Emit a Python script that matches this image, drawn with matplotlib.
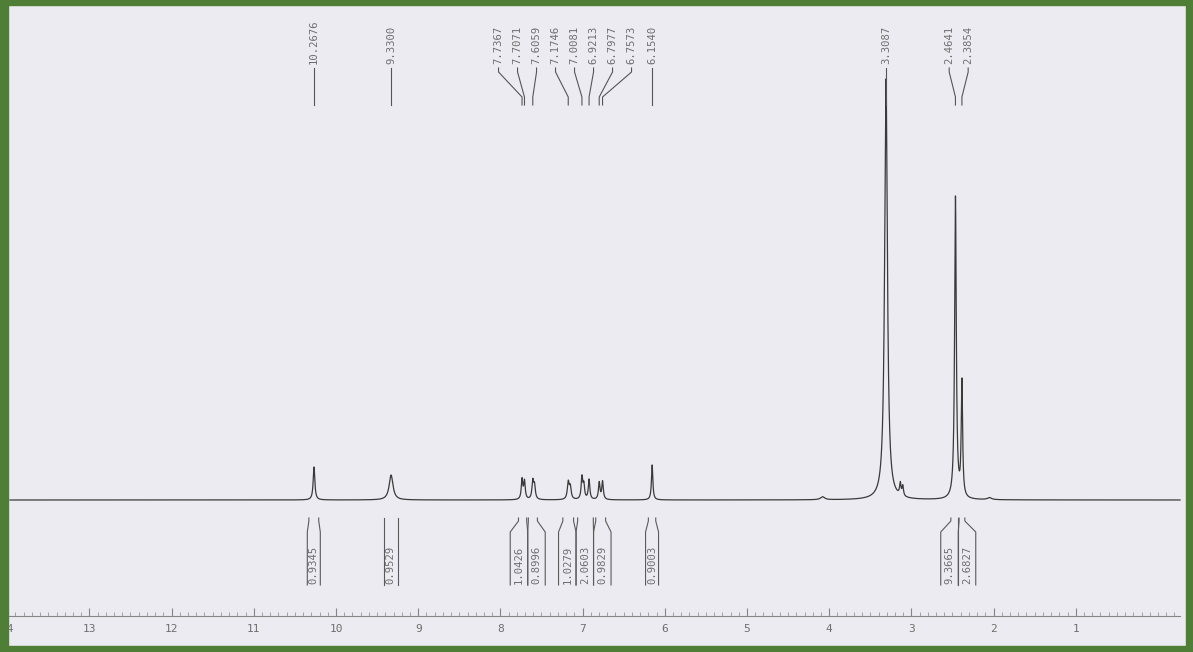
import matplotlib
matplotlib.use("Agg")
import matplotlib.pyplot as plt
import numpy as np
from matplotlib.patches import Rectangle
from matplotlib.ticker import FixedLocator, MultipleLocator

# labelled lines: shift (ppm), height above baseline, half-width (ppm)
peak_ppm = [10.2676, 9.3300, 7.7367, 7.7071, 7.6059, 7.1746, 7.0081,
            6.9213, 6.7977, 6.7573, 6.1540, 3.3087, 2.4641, 2.3854]
peak_height = [33, 25, 20, 18, 18, 17, 22, 20, 17, 18, 35, 421, 302, 115]
peak_hw = [0.012, 0.028, 0.011, 0.011, 0.012, 0.013, 0.011,
           0.011, 0.011, 0.011, 0.010, 0.020, 0.012, 0.010]

# small unlabelled lines (shoulders, satellites, impurities)
minor_ppm = [7.585, 7.150, 6.985, 3.135, 3.105, 4.080, 2.050]
minor_height = [13, 12, 14, 12, 10, 3, 2]
minor_hw = [0.012, 0.013, 0.011, 0.010, 0.010, 0.030, 0.030]

# integrals: value and region (ppm, from high to low)
integ_value = [0.9345, 0.9529, 1.0426, 0.8996, 1.0279, 2.0603, 0.9829,
               0.9003, 9.3665, 2.6827]
integ_from = [10.33, 9.42, 7.78, 7.66, 7.24, 7.06, 6.84, 6.20, 2.52, 2.42]
integ_to = [10.21, 9.25, 7.68, 7.55, 7.11, 6.87, 6.72, 6.11, 2.43, 2.35]

scale_ticks = list(range(1, 15))

W, H = 1193, 652
REF_PX, REF_PPM, PX_PER_PPM = 314.0, 10.2676, 82.2
BASE_ROW = 500
PAPER = "#edebf2"
INK = "#3a3a3a"
TEXT = "#6e6e6e"
MONO = "DejaVu Sans Mono"


def ppm_at(px):
    return REF_PPM - (px - REF_PX) / PX_PER_PPM


def spread(centers, gap):
    """Push labels apart so neighbours sit at least `gap` ppm from each other."""
    clusters = [[i] for i in range(len(centers))]

    def place(cl):
        mid = np.mean([centers[i] for i in cl])
        n = len(cl)
        return [mid + gap * ((n - 1) / 2 - k) for k in range(n)]

    merged = True
    while merged:
        merged = False
        for j in range(len(clusters) - 1):
            a, b = place(clusters[j]), place(clusters[j + 1])
            if a[-1] - b[0] < gap - 1e-9:
                clusters[j] = clusters[j] + clusters.pop(j + 1)
                merged = True
                break
    pos = []
    for cl in clusters:
        pos += place(cl)
    return np.array(pos), clusters


fig = plt.figure(figsize=(W / 100, H / 100), dpi=100)
fig.patch.set_facecolor(PAPER)

ax = fig.add_axes([0, 0, 1, 1])
ax.set_xlim(ppm_at(0), ppm_at(W))
ax.set_ylim(H, 0)
ax.axis("off")

# spectrum as a sum of Lorentzian lines
x = np.linspace(ppm_at(10), ppm_at(1180), 40000)
y = np.zeros_like(x)
for p, h, w in zip(peak_ppm + minor_ppm, peak_height + minor_height,
                   peak_hw + minor_hw):
    y += h * w ** 2 / ((x - p) ** 2 + w ** 2)
ax.plot(x, BASE_ROW - y, color=INK, lw=0.9)

# peak pick labels along the top
label_x, _ = spread(peak_ppm, 19 / PX_PER_PPM)
for p, lx in zip(peak_ppm, label_x):
    ax.plot([lx, lx, p, p], [68, 72, 97, 105], color="#555555", lw=0.8)
    ax.text(lx, 64, f"{p:.4f}", rotation=90, ha="center", va="bottom",
            fontsize=7.6, family=MONO, color=TEXT)

# integral brackets under the baseline
centers = [(a + b) / 2 for a, b in zip(integ_from, integ_to)]
box_w = 17.5 / PX_PER_PPM
box_x, clusters = spread(centers, box_w)
for cl in clusters:
    for i in cl:
        if len(cl) == 1:
            half = max(integ_from[i] - integ_to[i], 13 / PX_PER_PPM) / 2
        else:
            half = box_w / 2
        left, right = box_x[i] + half, box_x[i] - half
        ax.plot([integ_from[i], integ_from[i], left, left],
                [518, 521, 532, 585], color="#5a5a5a", lw=0.8)
        ax.plot([integ_to[i], integ_to[i], right, right],
                [518, 521, 532, 585], color="#5a5a5a", lw=0.8)
        ax.text(box_x[i], 584, f"{integ_value[i]:.4f}", rotation=90,
                ha="center", va="bottom", fontsize=7.6, family=MONO,
                color=TEXT)

# chemical shift scale
sx0, sx1, srow = 0, 1180, 616
sax = fig.add_axes([sx0 / W, (H - srow) / H, (sx1 - sx0) / W, 0.01])
sax.set_xlim(ppm_at(sx0), ppm_at(sx1))
sax.patch.set_alpha(0)
for side in ("top", "left", "right"):
    sax.spines[side].set_visible(False)
sax.spines["bottom"].set_color("#858585")
sax.spines["bottom"].set_linewidth(0.8)
sax.set_yticks([])
sax.xaxis.set_major_locator(FixedLocator(scale_ticks))
sax.xaxis.set_minor_locator(MultipleLocator(0.1))
sax.tick_params(axis="x", which="major", direction="in", length=6,
                width=0.8, color="#858585", pad=6, labelsize=8,
                labelcolor=TEXT)
sax.tick_params(axis="x", which="minor", direction="in", length=3,
                width=0.6, color="#959595")
for lab in sax.get_xticklabels():
    lab.set_family(MONO)

# green frame around the sheet
GREEN = "#4f7f36"
for rx, ry, rw, rh in [(0, 0, 8, H), (W - 7, 0, 7, H), (0, 0, W, 6),
                       (0, H - 5, W, 5)]:
    fig.add_artist(Rectangle((rx / W, ry / H), rw / W, rh / H,
                             transform=fig.transFigure, color=GREEN,
                             zorder=20))

fig.savefig("out.png", dpi=100, facecolor=PAPER)
